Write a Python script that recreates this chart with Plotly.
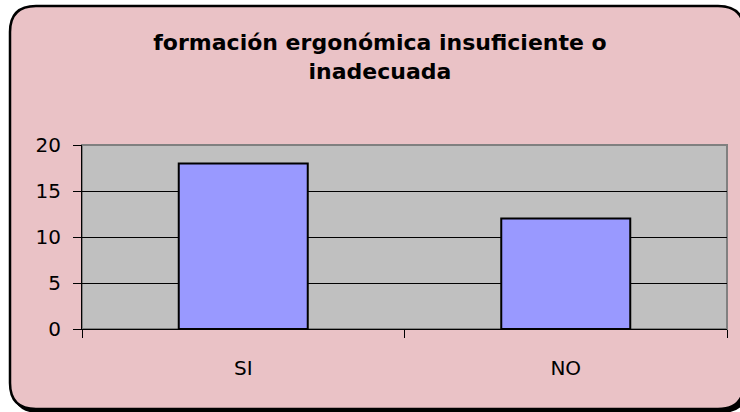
import plotly.graph_objects as go

# ---- data ----
categories = ["SI", "NO"]
values = [18, 12]
y_ticks = [0, 5, 10, 15, 20]
title_text = "formación ergonómica insuficiente o<br>inadecuada"

# ---- geometry (pixels) ----
W, H = 740, 412
L, R, T, B = 82, 727, 145, 329
PW, PH = R - L, B - T


def px(xp):
    return (xp - L) / PW


def py(yp):
    return (B - yp) / PH


def rounded_path(x0, y0, x1, y1, r):
    X0, X1 = px(x0), px(x1)
    Y0, Y1 = py(y0), py(y1)
    rx, ry = r / PW, r / PH
    return (
        f"M {X0+rx},{Y0} L {X1-rx},{Y0} Q {X1},{Y0} {X1},{Y0-ry} "
        f"L {X1},{Y1+ry} Q {X1},{Y1} {X1-rx},{Y1} "
        f"L {X0+rx},{Y1} Q {X0},{Y1} {X0},{Y1+ry} "
        f"L {X0},{Y0-ry} Q {X0},{Y0} {X0+rx},{Y0} Z"
    )


pink = "#EAC2C6"
shapes = [
    # shadow
    dict(type="path", path=rounded_path(13, 9, 747, 412, 26), xref="paper", yref="paper",
         fillcolor="black", line=dict(color="black", width=2), layer="below"),
    # main rounded frame
    dict(type="path", path=rounded_path(10, 6, 744, 409, 26), xref="paper", yref="paper",
         fillcolor=pink, line=dict(color="black", width=2.5), layer="below"),
    # plot area
    dict(type="rect", x0=0, x1=1, y0=0, y1=1, xref="paper", yref="paper",
         fillcolor="#C0C0C0", line=dict(color="#808080", width=2), layer="below"),
]

fig = go.Figure()
fig.add_trace(go.Bar(
    x=categories, y=values, width=0.4,
    marker=dict(color="#9999FF", line=dict(color="black", width=2)),
))

fig.update_layout(
    width=W, height=H,
    margin=dict(l=L, r=W - R, t=T, b=H - B, pad=0),
    paper_bgcolor="white",
    plot_bgcolor="rgba(0,0,0,0)",
    showlegend=False,
    shapes=shapes,
    title=dict(
        text=title_text, x=380 / W, xanchor="center", y=1 - 50 / H, yanchor="middle",
        yref="container", xref="container",
        font=dict(family="DejaVu Sans", size=22, color="black", weight="bold"),
    ),
    font=dict(family="DejaVu Sans", size=20, color="black"),
)
fig.update_xaxes(
    type="category", showgrid=False, zeroline=False,
    showline=True, linecolor="black", linewidth=1,
    ticks="outside", ticklen=8, tickcolor="black", tickwidth=1,
    tickson="boundaries", ticklabelstandoff=21,
    tickfont=dict(family="DejaVu Sans", size=20, color="black"),
)
fig.update_yaxes(
    range=[0, 20], tickvals=y_ticks, showgrid=True, gridcolor="black", gridwidth=1,
    zeroline=False, showline=True, linecolor="black", linewidth=1,
    ticks="outside", ticklen=8, tickcolor="black", tickwidth=1,
    ticklabelstandoff=8,
    tickfont=dict(family="DejaVu Sans", size=20, color="black"),
)

fig.write_html("out.html", config={"displayModeBar": False},
               post_script="document.body.style.margin='0px';")
